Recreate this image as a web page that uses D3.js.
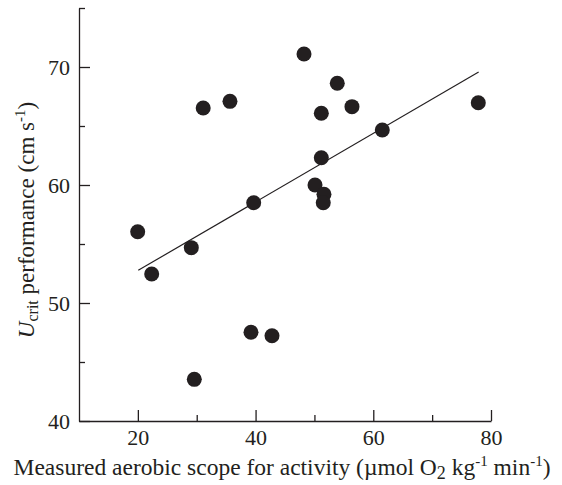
<!DOCTYPE html>
<html>
<head>
<meta charset="utf-8">
<script src="https://cdn.jsdelivr.net/npm/d3@7"></script>
<style>
  body { margin: 0; background: #fff; }
  text { font-family: "Liberation Serif", "Times New Roman", serif; fill: #231f20; }
</style>
</head>
<body>
<div id="chart"></div>
<script>
// measured aerobic scope (x) and Ucrit (y) for each fish
const scopeValues = [19.97, 22.35, 29.08, 29.59, 31.1, 35.65, 39.68, 39.22, 42.79, 48.23,
  50.1, 51.17, 51.17, 51.62, 51.5, 53.88, 56.38, 61.53, 77.84];
const ucritValues = [56.04, 52.46, 54.69, 43.53, 66.53, 67.09, 58.5, 47.52, 47.23, 71.1,
  60.0, 62.31, 66.08, 59.21, 58.5, 68.62, 66.64, 64.66, 66.97];

// regression line end points
const fitX = [20.07, 77.9];
const fitY = [52.77, 69.58];

const xMajorTicks = [20, 40, 60, 80];
const xMinorTicks = [30, 50, 70];
const yMajorTicks = [40, 50, 60, 70];
const yMinorTicks = [45, 55, 65, 75];

const width = 562, height = 485;
const margin = { top: 8, right: 71, bottom: 64, left: 79 };
const ink = "#231f20";

const svg = d3.select("#chart").append("svg")
  .attr("width", width)
  .attr("height", height);

const g = svg.append("g")
  .attr("transform", `translate(${margin.left},${margin.top})`);

const w = width - margin.left - margin.right;
const h = height - margin.top - margin.bottom;

const x = d3.scaleLinear().domain([10, 80]).range([0, w]);
const y = d3.scaleLinear().domain([40, 75]).range([h, 0]);

// x axis, ticks point inward
const xAxis = g.append("g")
  .attr("transform", `translate(0,${h})`)
  .call(d3.axisBottom(x).tickValues(xMajorTicks).tickSize(-11).tickSizeOuter(0).tickPadding(8));
g.append("g")
  .attr("transform", `translate(0,${h})`)
  .call(d3.axisBottom(x).tickValues(xMinorTicks).tickSize(-6).tickFormat("").tickSizeOuter(0))
  .select(".domain").remove();

const yAxis = g.append("g")
  .call(d3.axisLeft(y).tickValues(yMajorTicks).tickSize(-11).tickSizeOuter(0).tickPadding(9));
g.append("g")
  .call(d3.axisLeft(y).tickValues(yMinorTicks).tickSize(-6).tickFormat("").tickSizeOuter(0))
  .select(".domain").remove();

g.selectAll("g").attr("font-family", null);
g.selectAll(".domain, .tick line").attr("stroke", ink).attr("stroke-width", 1.3);
g.selectAll(".tick text")
  .attr("fill", ink)
  .style("font-family", '"Liberation Serif", serif')
  .style("font-size", "22px");

// regression line
const line = d3.line().x(d => x(d[0])).y(d => y(d[1]));
g.append("path")
  .datum(d3.zip(fitX, fitY))
  .attr("fill", "none")
  .attr("stroke", ink)
  .attr("stroke-width", 1.2)
  .attr("d", line);

// points
g.selectAll("circle")
  .data(d3.zip(scopeValues, ucritValues))
  .enter()
  .append("circle")
  .attr("cx", d => x(d[0]))
  .attr("cy", d => y(d[1]))
  .attr("r", 7.5)
  .attr("fill", ink);

// x label
const xl = svg.append("text")
  .attr("x", 282)
  .attr("y", 475)
  .attr("text-anchor", "middle")
  .style("font-size", "23.5px");
xl.append("tspan").text("Measured aerobic scope for activity (\u00b5mol O");
xl.append("tspan").attr("dy", 4).style("font-size", "18px").text("2");
xl.append("tspan").attr("dy", -4).text(" kg");
xl.append("tspan").attr("dy", -9).style("font-size", "15px").text("-1");
xl.append("tspan").attr("dy", 9).text(" min");
xl.append("tspan").attr("dy", -9).style("font-size", "15px").text("-1");
xl.append("tspan").attr("dy", 9).text(")");

// y label
const yl = svg.append("text")
  .attr("transform", "translate(34,220) rotate(-90)")
  .attr("text-anchor", "middle")
  .style("font-size", "23px");
yl.append("tspan").style("font-style", "italic").text("U");
yl.append("tspan").attr("dy", 4).style("font-size", "16px").text("crit");
yl.append("tspan").attr("dy", -4).text(" performance (cm s");
yl.append("tspan").attr("dy", -9).style("font-size", "15px").text("-1");
yl.append("tspan").attr("dy", 9).text(")");
</script>
</body>
</html>
